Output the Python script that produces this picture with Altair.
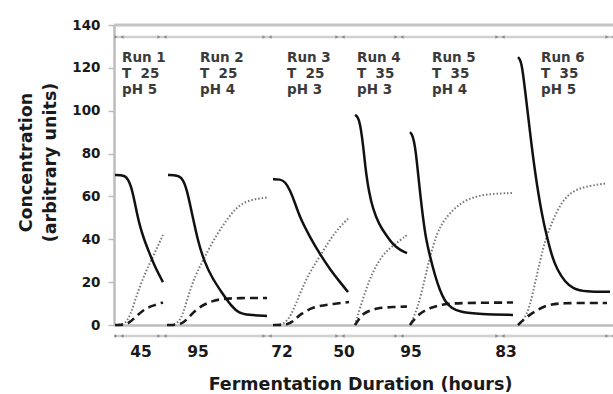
import altair as alt
import pandas as pd

# ---- run descriptions -------------------------------------------------------
runs = ["Run 1", "Run 2", "Run 3", "Run 4", "Run 5", "Run 6"]
temps = ["25", "25", "25", "35", "35", "35"]
phs = ["5", "4", "3", "3", "4", "5"]
durations = ["45", "95", "72", "50", "95", "83"]

# position of each run on the shared timeline
run_label_pos = [8, 86, 173, 243, 318, 427]
duration_label_pos = [27, 84, 168, 230, 297, 392]
run_edges = [5, 48, 153, 226, 285, 386, 496]

# ---- measured curves (timeline position, concentration) ---------------------
solid_t = [
    [1, 7, 11, 14, 17, 20, 23, 26, 30, 35, 42, 49],
    [54, 60, 65, 69, 73, 78, 84, 90, 98, 108, 118, 125, 134, 153],
    [159, 166, 171, 176, 181, 186, 196, 206, 216, 226, 234],
    [241, 244, 246, 248, 250, 252, 255, 259, 265, 272, 279, 286, 293],
    [296, 298, 300, 302, 304, 306, 309, 312, 316, 321, 326, 331, 337, 346, 366, 399],
    [404, 406, 408, 411, 416, 421, 428, 433, 438, 443, 451, 459, 471, 496],
]
solid_v = [
    [70, 70, 69.5, 68, 65, 59, 52, 46, 40, 34, 26, 20],
    [70, 70, 69.5, 68, 63, 52, 39, 30, 22, 15, 8.4, 5.6, 4.7, 4.2],
    [68, 68, 67, 63, 57, 50, 41, 33, 26, 20, 15.4],
    [98, 97, 94, 88, 80, 71, 62, 54, 47, 42, 37.5, 35, 33.5],
    [90, 89, 86, 80, 71, 62, 50, 40, 32, 23, 16, 11, 8, 6, 5, 4.7],
    [125, 124, 121, 110, 90, 71, 51, 41, 32, 26, 20, 17, 15.5, 15.5],
]

dotted_t = [
    [1, 13, 20, 28, 38, 49],
    [53, 66, 73, 81, 90, 101, 114, 128, 153],
    [159, 174, 186, 196, 206, 216, 226, 235],
    [241, 246, 253, 260, 269, 279, 293],
    [296, 304, 311, 316, 323, 330, 343, 363, 399],
    [404, 413, 419, 426, 432, 439, 447, 459, 476, 491],
]
dotted_v = [
    [0, 0, 10, 21, 31, 42],
    [0, 0, 12, 23, 31, 41, 50, 58, 59.5],
    [0, 0, 15, 25, 32, 40, 46, 50],
    [0, 8, 18, 26, 33, 37, 42],
    [0, 8, 22, 32, 43, 49, 56, 61, 61.6],
    [0, 4, 15, 30, 41, 49, 57, 63, 65, 66],
]

dashed_t = [
    [1, 13, 20, 29, 38, 49],
    [53, 66, 72, 81, 94, 108, 125, 153],
    [159, 174, 180, 186, 199, 213, 235],
    [241, 244, 249, 263, 279, 293],
    [296, 299, 306, 316, 329, 346, 399],
    [404, 413, 423, 433, 446, 493],
]
dashed_v = [
    [0, 0, 3, 7, 9, 10.5],
    [0, 0, 2, 7, 10.7, 12.3, 12.6, 12.6],
    [0, 0, 2, 5, 8.4, 9.5, 10.7],
    [0, 2, 5.6, 8, 8.4, 8.6],
    [0, 2, 5.6, 8, 9.8, 10.3, 10.5],
    [0, 4, 7, 9.3, 10.3, 10.3],
]


def long_table(ts, vs):
    rows = []
    for run, t_list, v_list in zip(runs, ts, vs):
        for t, v in zip(t_list, v_list):
            rows.append({"run": run, "t": t, "value": v})
    return pd.DataFrame(rows)


solid_df = long_table(solid_t, solid_v)
dotted_df = long_table(dotted_t, dotted_v)
dashed_df = long_table(dashed_t, dashed_v)

labels_df = pd.DataFrame({
    "t": run_label_pos,
    "text": [f"{r}\nT\u00a0\u00a0{tp}\npH {p}" for r, tp, p in zip(runs, temps, phs)],
})
dur_df = pd.DataFrame({"t": duration_label_pos, "text": durations})

marker_rows = []
for e in run_edges:
    marker_rows.append({"t": e - 3, "shape": "triangle-right"})
    marker_rows.append({"t": e + 3, "shape": "triangle-left"})
markers_df = pd.DataFrame(marker_rows)

FONT = "DejaVu Sans"
W, H = 499, 300

x_scale = alt.Scale(domain=[0, 499], nice=False, zero=False)
y_scale = alt.Scale(domain=[0, 140], nice=False)

x_enc = alt.X(
    "t:Q", scale=x_scale,
    axis=alt.Axis(
        title="Fermentation Duration (hours)", labels=False, ticks=False,
        grid=False, domainColor="#bdbdbd", domainWidth=2.5,
        titleFont=FONT, titleFontSize=17.5, titleFontWeight="bold",
        titleColor="#1a1a1a", titleX=246, titleY=64, titleBaseline="alphabetic",
        titleAlign="center",
    ),
)
y_enc = alt.Y(
    "value:Q", scale=y_scale,
    axis=alt.Axis(
        title=["Concentration", "(arbitrary units)"], values=list(range(0, 141, 20)),
        grid=False, domainColor="#bdbdbd", domainWidth=2.5,
        tickColor="#bdbdbd", tickSize=6, tickWidth=1.5, labelPadding=8,
        labelFont=FONT, labelFontSize=13.5, labelFontWeight="bold", labelColor="#1a1a1a",
        titleFont=FONT, titleFontSize=17.5, titleFontWeight="bold", titleColor="#1a1a1a",
        titleLineHeight=24, titleX=-97, titleY=137, titleBaseline="top",
        titleAlign="center", titleAngle=270,
    ),
)

solid = alt.Chart(solid_df).mark_line(
    color="#111111", strokeWidth=2.5, interpolate="basis"
).encode(x=x_enc, y=y_enc, detail="run:N", order="t:Q")

dashed = alt.Chart(dashed_df).mark_line(
    color="#1a1a1a", strokeWidth=2.6, strokeDash=[8, 5], interpolate="basis"
).encode(x="t:Q", y="value:Q", detail="run:N", order="t:Q")

dotted = alt.Chart(dotted_df).mark_line(
    color="#777777", strokeWidth=2, strokeDash=[1.5, 2], interpolate="basis"
).encode(x="t:Q", y="value:Q", detail="run:N", order="t:Q")

# frame at the top of the plot and the two run-separator lines
frame = alt.Chart(pd.DataFrame({"value": [140]})).mark_rule(
    color="#c4c4c4", strokeWidth=3
).encode(y="value:Q", x=alt.value(0), x2=alt.value(W))

sep_lines = alt.Chart(pd.DataFrame({"pos": [12, 311]})).mark_rule(
    color="#d0d0d0", strokeWidth=2.5
).encode(y=alt.Y("pos:Q", scale=None), x=alt.value(0), x2=alt.value(W))

top_marks = alt.Chart(markers_df).mark_point(
    filled=True, size=14, color="#8a8a8a", opacity=1
).encode(x="t:Q", y=alt.value(12), shape=alt.Shape("shape:N", scale=None))

bottom_marks = alt.Chart(markers_df).mark_point(
    filled=True, size=14, color="#8a8a8a", opacity=1
).encode(x="t:Q", y=alt.value(311), shape=alt.Shape("shape:N", scale=None))

run_text = alt.Chart(labels_df).mark_text(
    align="left", baseline="top", font=FONT, fontSize=13.5, fontWeight="bold",
    color="#3a3a3a", lineBreak="\n", lineHeight=16,
).encode(x="t:Q", y=alt.value(26), text="text:N")

dur_text = alt.Chart(dur_df).mark_text(
    align="center", baseline="middle", font=FONT, fontSize=15.5, fontWeight="bold",
    color="#1a1a1a",
).encode(x="t:Q", y=alt.value(327), text="text:N")

chart = alt.layer(
    frame, sep_lines, top_marks, bottom_marks, dotted, dashed, solid, run_text, dur_text
).properties(
    width=W, height=H,
    padding={"left": 114, "top": 25, "right": 0, "bottom": 69},
    autosize=alt.AutoSizeParams(type="none"),
    background="white",
).configure_view(stroke=None)

chart.save("out.html", embed_options={"renderer": "svg", "actions": False})
